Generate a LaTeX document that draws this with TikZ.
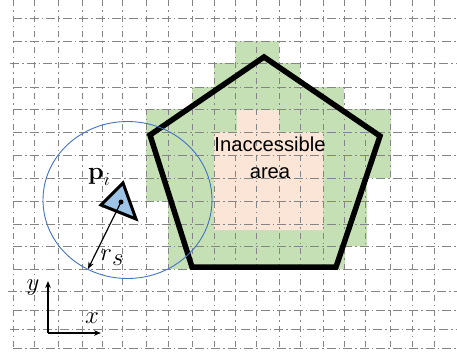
\documentclass[tikz,border=0pt]{standalone}
\usepackage{amssymb}
\usepackage{amsmath}
\usepackage{graphicx}
\usepackage[no-math]{fontspec}
\usetikzlibrary{arrows.meta}
\setmainfont{Liberation Sans}
\definecolor{ccGreen}{HTML}{C5E0B4}
\definecolor{ccPink}{HTML}{FBE5D6}
\definecolor{ccBlue}{HTML}{9DC3E6}
\definecolor{ccRing}{HTML}{4472C4}
\definecolor{ccGrid}{HTML}{858585}
\tikzset{
  gridH/.style={ccGrid,line width=0.65pt,dash pattern=on 9pt off 3pt on 1.5pt off 3pt},
  gridV/.style={ccGrid,line width=0.65pt,dash pattern=on 6pt off 4pt on 1.5pt off 4pt},
  wall/.style={line width=5.5pt,line join=miter},
  mathlabel/.style={inner sep=0pt,font=\fontsize{26}{30}\selectfont},
  pointer/.style={-{Stealth[length=7pt,width=5.5pt]},line width=1.2pt},
}
\begin{document}
\begin{tikzpicture}[x=1pt,y=-1pt]
\useasboundingbox (0,0) rectangle (457,354);
\fill[ccGreen] (235,41) -| (279,63) -| (300,87) -| (344,109) -| (391,178) -| (367,246) -| (345,269)
  -| (168,201) -| (146,109) -| (192,87) -| (214,63) -| cycle;
\fill[ccPink] (237,110) -| (279,132) -| (323,230) -| (214,132) -| (237,110);
\foreach \x in {13,34.5,58,82,102,122,146,168,192,214,235,256,279,300,323,344,365,390,412,434}
  \draw[gridV] (\x,0) -- (\x,348);
\foreach \y/\s in {18/13,41/13,63/10,87/13,109/13,132/13,155/13,178/13,201/13,224/13,246/13,269/13,291/8,310/13,329/10,348/13}
  \draw[gridH] (\s,\y) -- (457,\y);
\coordinate (top) at (264,57);
\coordinate (right) at (380,136);
\coordinate (lowR) at (336,267);
\coordinate (lowL) at (192,267);
\coordinate (left) at (150,135);
\draw[wall] (top) -- (right) -- (lowR) -- (lowL) -- (left) -- cycle;
\node[align=center,inner sep=0pt,font=\fontsize{20.2}{27}\selectfont] (label) at (270,158) {Inaccessible\\area};
\draw[ccRing,line width=0.9pt] (127.5,200) ellipse [x radius=84.5,y radius=78.5];
\draw[line width=3pt,fill=ccBlue] (123,183) -- (101,205) -- (136,219) -- cycle;
\coordinate (agent) at (121,202);
\coordinate (rim) at (88,269);
\fill (agent) circle (2.5);
\draw[pointer] (agent) -- (rim);
\node[mathlabel] (pi) at (99,177) {$\mathbf{p}\raisebox{-6pt}{\scalebox{0.75}{$i$}}$};
\node[mathlabel] (rs) at (112,258) {$r\raisebox{-5pt}{$s$}$};
\coordinate (origin) at (48,333);
\coordinate (yend) at (48,281);
\coordinate (xend) at (101,333);
\draw[pointer] (origin) -- (yend);
\draw[pointer] (origin) -- (xend);
\node[mathlabel] (ylab) at (33,288) {$y$};
\node[mathlabel] (xlab) at (92,318) {$x$};
\end{tikzpicture}
\end{document}
